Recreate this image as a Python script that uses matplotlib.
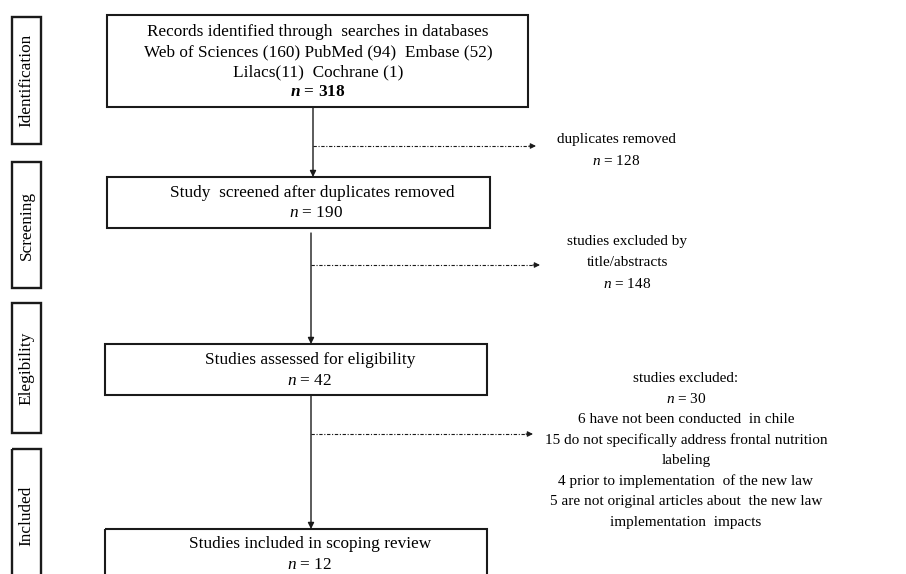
import matplotlib.pyplot as plt
from matplotlib.patches import Rectangle

plt.rcParams["font.family"] = ["Liberation Serif", "DejaVu Serif"]
plt.rcParams["mathtext.fontset"] = "custom"
plt.rcParams["mathtext.rm"] = "Liberation Serif"
plt.rcParams["mathtext.it"] = "Liberation Serif:italic"
plt.rcParams["mathtext.bf"] = "Liberation Serif:bold"
plt.rcParams["mathtext.bfit"] = "Liberation Serif:italic:bold"

# stage labels on the left
stages = ["Identification", "Screening", "Elegibility", "Included"]

# counts per database and flow counts
databases = ["Web of Sciences", "PubMed", "Embase", "Lilacs", "Cochrane"]
db_counts = [160, 94, 52, 11, 1]
n_identified = 318
n_screened = 190
n_assessed = 42
n_included = 12
n_duplicates = 128
n_title_excl = 148
n_full_excl = 30
excl_reasons = [
    "6 have not been conducted  in chile",
    "15 do not specifically address frontal nutrition\nlabeling",
    "4 prior to implementation  of the new law",
    "5 are not original articles about  the new law\nimplementation  impacts",
]

FS = 12.4   # boxes and stage labels
FS2 = 11.0  # exclusion notes on the right

fig = plt.figure(figsize=(9.06, 5.74), dpi=100)
ax = fig.add_axes([0, 0, 1, 1])
ax.set_xlim(0, 906)
ax.set_ylim(574, 0)
ax.axis("off")


def box(x0, y0, x1, y1, lw=1.5):
    ax.add_patch(Rectangle((x0, y0), x1 - x0, y1 - y0, fill=False,
                           edgecolor="#1a1a1a", linewidth=lw))


def down_arrow(x, y0, y1):
    ax.annotate("", xy=(x, y1), xytext=(x, y0),
                arrowprops=dict(arrowstyle="-|>", color="#1a1a1a", lw=1.0,
                                mutation_scale=9, shrinkA=0, shrinkB=0))


def side_arrow(x0, x1, y):
    ax.plot([x0, x1 - 6], [y, y], color="#1a1a1a", lw=0.8,
            linestyle=(0, (3, 1.5, 1, 1.5)))
    ax.annotate("", xy=(x1, y), xytext=(x1 - 7, y),
                arrowprops=dict(arrowstyle="-|>", color="#1a1a1a", lw=0.8,
                                mutation_scale=8, shrinkA=0, shrinkB=0))


# stage boxes
stage_y = [(17, 144), (162, 288), (303, 433), (449, 590)]
stage_mid = [80, 225, 368, 516]
for name, (ya, yb), ym in zip(stages, stage_y, stage_mid):
    box(12, ya, 41, yb, lw=1.7)
    ax.text(26.5, ym, name, rotation=90, ha="center", va="center",
            fontsize=FS)

# identification box
box(107, 15, 528, 107)
db_line = "{} ({}) {} ({})  {} ({})".format(databases[0], db_counts[0],
                                             databases[1], db_counts[1],
                                             databases[2], db_counts[2])
db_line2 = "{}({})  {} ({})".format(databases[3], db_counts[3],
                                    databases[4], db_counts[4])
ax.text(318, 32, "Records identified through  searches in databases",
        ha="center", va="center", fontsize=FS)
ax.text(318, 52, db_line, ha="center", va="center", fontsize=FS)
ax.text(318, 72, db_line2, ha="center", va="center", fontsize=FS)
ax.text(318, 92, r"$\mathbfit{n}$" + " = {}".format(n_identified),
        ha="center", va="center", fontsize=FS, fontweight="bold")

# screening box
box(107, 177, 490, 228)
ax.text(312, 193, "Study  screened after duplicates removed",
        ha="center", va="center", fontsize=FS)
ax.text(316, 213, r"$\mathit{n}$" + " = {}".format(n_screened),
        ha="center", va="center", fontsize=FS)

# eligibility box
box(105, 344, 487, 395)
ax.text(310, 360, "Studies assessed for eligibility",
        ha="center", va="center", fontsize=FS)
ax.text(310, 381, r"$\mathit{n}$" + " = {}".format(n_assessed),
        ha="center", va="center", fontsize=FS)

# included box
box(105, 529, 487, 600)
ax.text(310, 544, "Studies included in scoping review",
        ha="center", va="center", fontsize=FS)
ax.text(310, 565, r"$\mathit{n}$" + " = {}".format(n_included),
        ha="center", va="center", fontsize=FS)

# main flow arrows
down_arrow(313, 107, 177)
down_arrow(311, 233, 344)
down_arrow(311, 395, 529)

# exclusion branches
side_arrow(313, 536, 146)
side_arrow(311, 540, 265)
side_arrow(311, 533, 434)

ax.text(616, 139, "duplicates removed", ha="center", va="center", fontsize=FS2)
ax.text(616, 161, r"$\mathit{n}$" + " = {}".format(n_duplicates),
        ha="center", va="center", fontsize=FS2)

ax.text(627, 242, "studies excluded by", ha="center", va="center", fontsize=FS2)
ax.text(627, 263, "title/abstracts", ha="center", va="center", fontsize=FS2)
ax.text(627, 284, r"$\mathit{n}$" + " = {}".format(n_title_excl),
        ha="center", va="center", fontsize=FS2)

lines3 = ["studies excluded:", r"$\mathit{n}$" + " = {}".format(n_full_excl)]
for r in excl_reasons:
    lines3 += r.split("\n")
for i, t in enumerate(lines3):
    ax.text(686, 378 + i * 20.6, t, ha="center", va="center", fontsize=FS2)

fig.savefig("out.png", dpi=100, facecolor="white")
